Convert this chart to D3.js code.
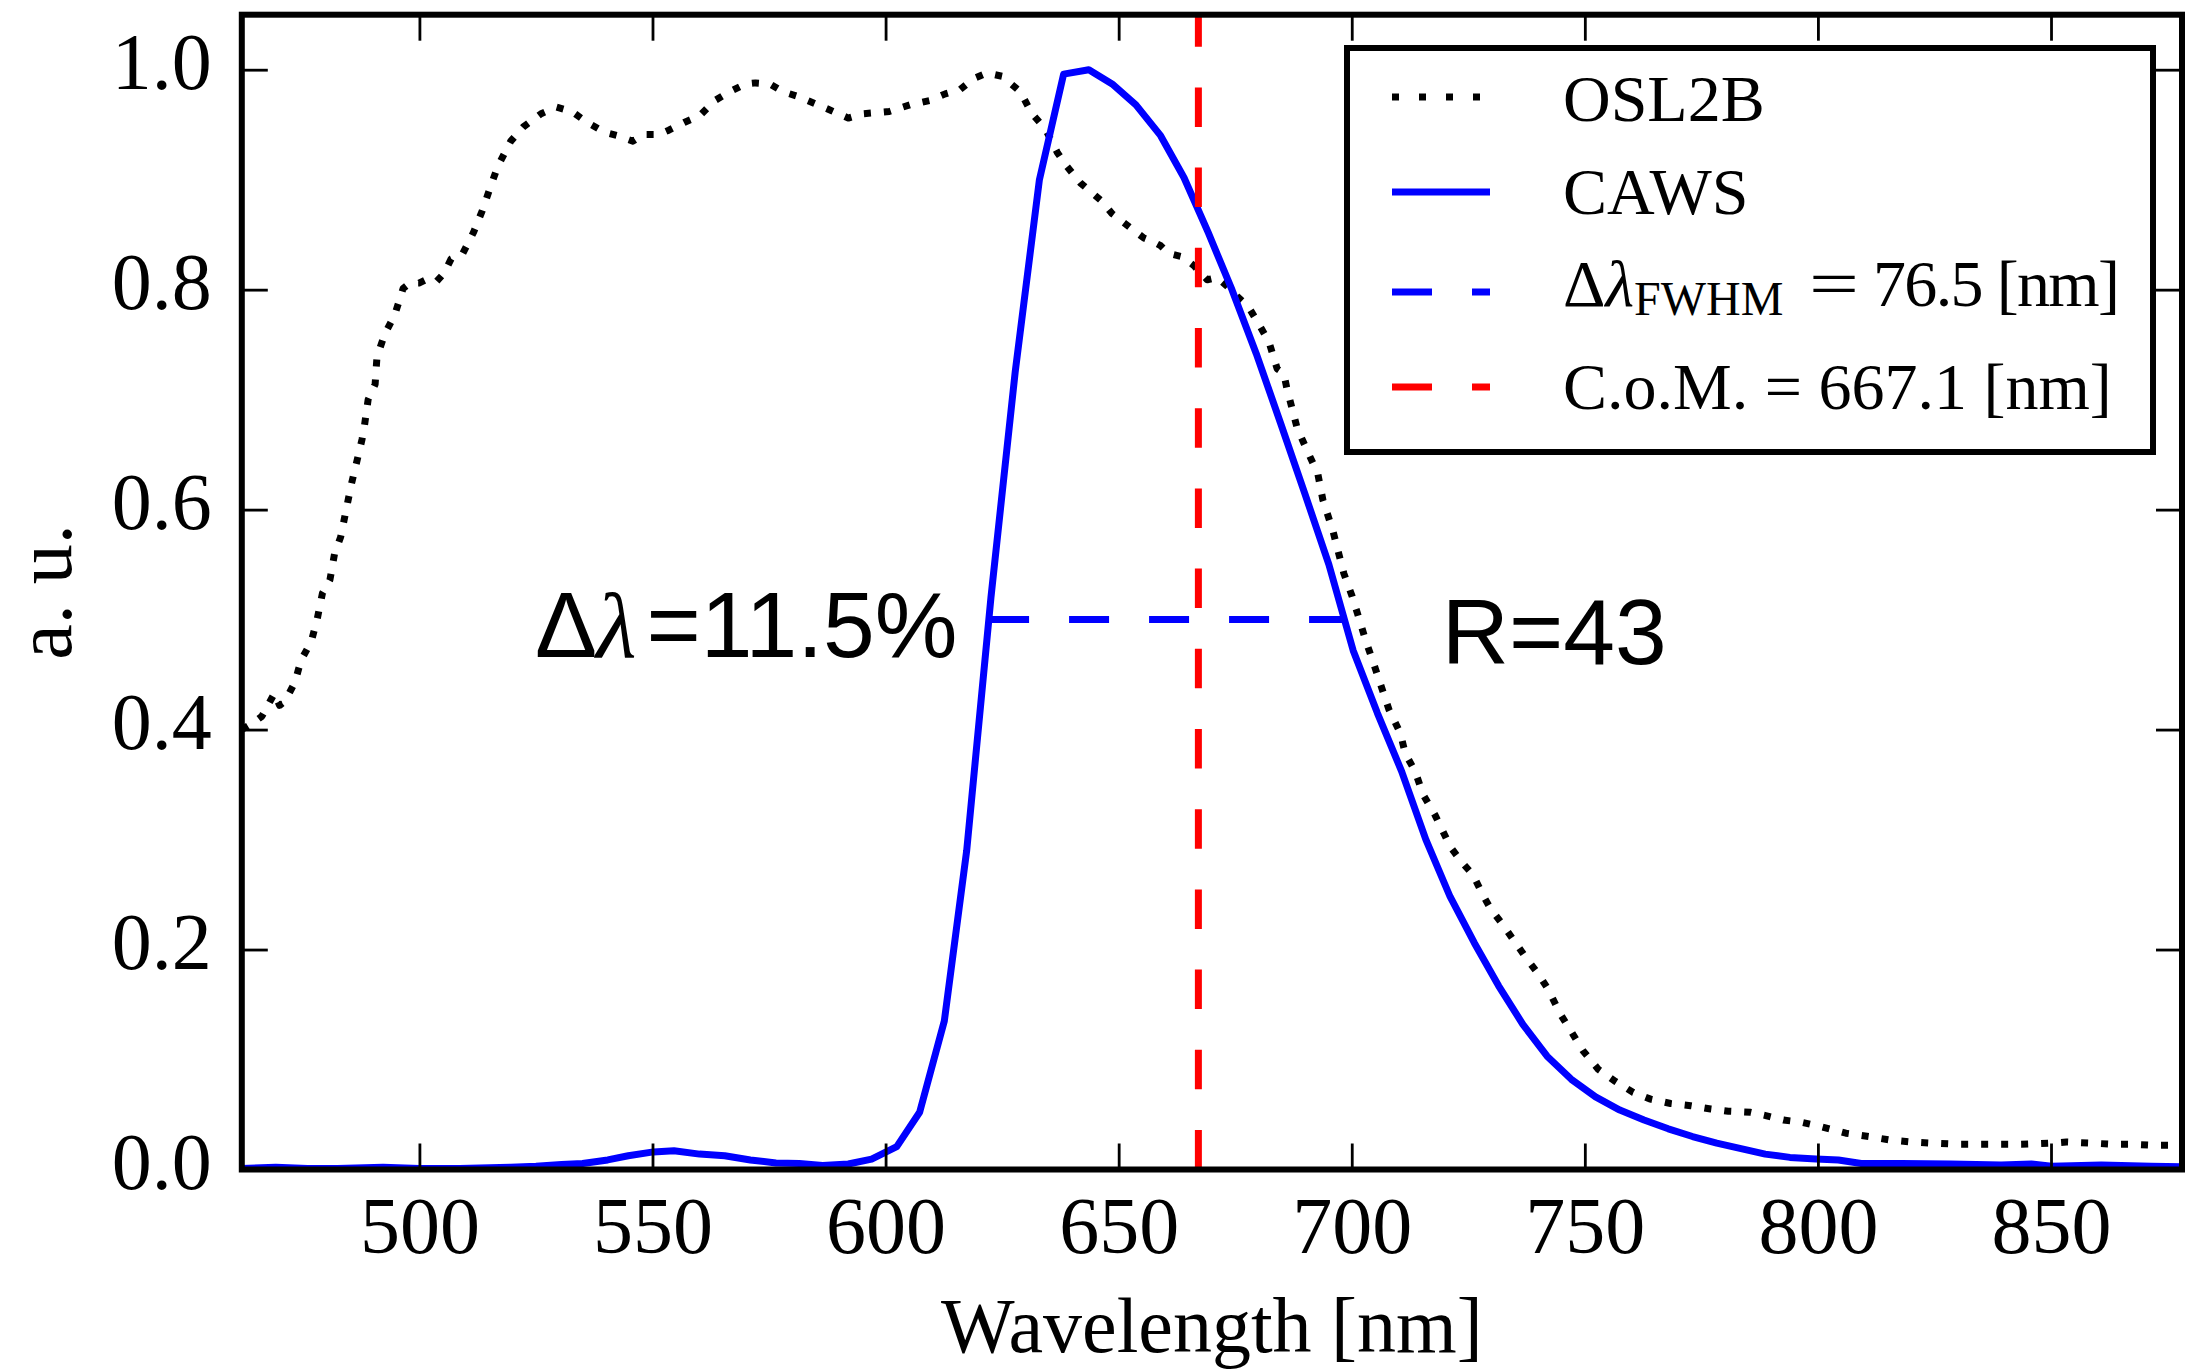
<!DOCTYPE html>
<html>
<head>
<meta charset="utf-8">
<script src="https://cdn.jsdelivr.net/npm/d3@7"></script>
<style>
  html, body { margin: 0; padding: 0; background: #fff; }
  svg { display: block; }
</style>
</head>
<body>
<svg id="chart" width="2185" height="1369"></svg>
<script>
// ---- Spectra (wavelength in nm, normalised response) ----
const oslWavelength = [461.9,464.3,466.2,468.9,470.0,471.2,473.3,474.6,476.8,478.1,479.2,480.8,481.8,483.1,484.2,485.4,486.7,487.7,488.2,489.0,490.5,490.9,492.6,494.7,496.5,498.0,499.9,501.4,503.6,505.3,506.8,509.3,511.6,513.5,515.2,516.8,519.6,522.3,526.1,529.4,532.7,536.0,539.8,542.5,545.8,548.0,551.3,553.5,556.8,560.1,563.4,566.6,569.9,572.1,575.2,578.0,581.7,583.3,587.7,592.0,595.3,600.8,605.2,609.5,612.8,616.0,618.9,621.8,625.0,628.9,631.4,634.3,636.8,638.9,641.8,644.3,646.5,648.6,651.4,653.2,655.4,657.2,659.0,660.7,663.6,666.1,669.0,671.1,673.3,675.4,677.9,680.0,682.2,684.0,685.4,686.1,688.3,690.5,692.7,693.8,696.0,698.3,700.1,701.2,703.0,704.7,706.5,708.0,710.4,711.5,713.6,715.3,717.9,721.2,723.9,726.0,728.2,729.8,732.5,737.3,740.0,742.1,744.8,747.0,749.6,752.9,756.6,760.4,764.1,768.4,772.7,777.0,780.8,785.6,788.8,792.6,796.4,800.6,806.0,810.9,815.2,820.0,824.3,829.7,834.0,839.3,843.6,850.1,853.3,858.7,863.0,867.3,872.1,878.1];
const oslValue = [0.400,0.406,0.412,0.433,0.422,0.426,0.443,0.463,0.480,0.501,0.524,0.536,0.560,0.575,0.598,0.623,0.646,0.664,0.676,0.700,0.714,0.739,0.760,0.777,0.801,0.806,0.806,0.809,0.807,0.815,0.828,0.833,0.852,0.872,0.893,0.912,0.935,0.948,0.960,0.966,0.962,0.952,0.943,0.940,0.935,0.941,0.941,0.945,0.952,0.958,0.972,0.980,0.987,0.988,0.987,0.980,0.975,0.972,0.964,0.956,0.960,0.962,0.968,0.972,0.978,0.982,0.992,0.997,0.994,0.980,0.960,0.946,0.925,0.912,0.897,0.888,0.880,0.869,0.860,0.854,0.847,0.844,0.840,0.833,0.830,0.822,0.809,0.811,0.803,0.794,0.784,0.769,0.753,0.728,0.724,0.710,0.674,0.653,0.633,0.609,0.580,0.542,0.521,0.506,0.481,0.460,0.437,0.418,0.397,0.378,0.362,0.341,0.322,0.293,0.278,0.268,0.249,0.237,0.222,0.193,0.178,0.164,0.141,0.126,0.108,0.091,0.080,0.070,0.064,0.060,0.058,0.055,0.053,0.052,0.049,0.045,0.043,0.039,0.033,0.030,0.027,0.025,0.024,0.023,0.023,0.023,0.023,0.024,0.025,0.024,0.023,0.023,0.022,0.022];

const cawsWavelength = [461.9,469.2,476.0,482.4,492.2,500.0,508.6,519.6,525.0,530.5,535.0,540.4,544.8,550.2,554.6,560.1,565.5,571.0,576.5,581.5,586.5,592.0,597.0,602.4,607.3,612.6,617.4,622.6,627.8,633.0,638.2,643.6,648.6,653.7,659.0,664.0,669.2,674.3,679.5,684.7,689.9,695.1,700.3,705.5,710.7,715.9,721.1,726.3,731.5,736.7,741.9,747.1,752.3,757.5,762.7,767.9,773.1,778.3,783.5,788.7,794.0,799.6,804.4,809.3,818.0,828.6,839.3,845.8,850.1,860.8,871.5,878.1];
const cawsValue = [0.001,0.002,0.001,0.001,0.002,0.001,0.001,0.002,0.003,0.0046,0.0055,0.0087,0.0125,0.016,0.017,0.014,0.0125,0.0087,0.006,0.0055,0.0037,0.005,0.0095,0.0208,0.052,0.135,0.290,0.520,0.725,0.900,0.996,1.000,0.987,0.968,0.940,0.902,0.852,0.800,0.742,0.679,0.615,0.550,0.472,0.415,0.362,0.300,0.248,0.206,0.167,0.132,0.103,0.082,0.066,0.054,0.045,0.037,0.030,0.024,0.019,0.014,0.011,0.0096,0.0087,0.0055,0.0055,0.005,0.004,0.005,0.003,0.004,0.003,0.0025];

// Half-maximum bounds and centre of mass of the CAWS band (nm)
const fwhmBounds = [622.2, 698.7];
const fwhmLevel = 0.5;
const centerOfMass = 667.1;

// Axes
const xDomain = [461.9, 878.1];
const yDomain = [0, 1.05];
const xTicks = [500, 550, 600, 650, 700, 750, 800, 850];
const yTicks = [0.0, 0.2, 0.4, 0.6, 0.8, 1.0];

// Labels
const legendLabels = ["OSL2B", "CAWS", "FWHM", "C.o.M. = 667.1 [nm]"];
const deltaText = "=11.5%";
const resolutionText = "R=43";
const deltaAnchor = [524.8, 0.466];
const resolutionAnchor = [719.3, 0.4595];

// ---- Drawing ----
const W = 2185, H = 1369;
const margin = { left: 241.8, right: 3, top: 14.7, bottom: 199.5 };
const serif = "'Liberation Serif', 'Times New Roman', Times, serif";
const sans = "'Liberation Sans', Arial, Helvetica, sans-serif";
const BLUE = "#0000ff", RED = "#ff0000";
const LW = 7;

const svg = d3.select("#chart");
svg.append("rect").attr("width", W).attr("height", H).attr("fill", "#fff");

const x = d3.scaleLinear().domain(xDomain).range([margin.left, W - margin.right]);
const y = d3.scaleLinear().domain(yDomain).range([H - margin.bottom, margin.top]);

svg.append("defs").append("clipPath").attr("id", "plot-clip")
  .append("rect")
  .attr("x", x.range()[0]).attr("y", y.range()[1])
  .attr("width", x.range()[1] - x.range()[0])
  .attr("height", y.range()[0] - y.range()[1]);

const plot = svg.append("g").attr("clip-path", "url(#plot-clip)");
const line = d3.line().x(d => x(d[0])).y(d => y(d[1]));

// OSL2B: dotted black
plot.append("path")
  .datum(d3.zip(oslWavelength, oslValue))
  .attr("d", line)
  .attr("fill", "none").attr("stroke", "#000")
  .attr("stroke-width", LW).attr("stroke-dasharray", "7,13")
  .attr("stroke-linecap", "butt").attr("stroke-linejoin", "round");

// CAWS: solid blue
plot.append("path")
  .datum(d3.zip(cawsWavelength, cawsValue))
  .attr("d", line)
  .attr("fill", "none").attr("stroke", BLUE)
  .attr("stroke-width", LW).attr("stroke-linejoin", "round");

// FWHM: dashed blue at half maximum
plot.append("path")
  .datum(fwhmBounds.map(w => [w, fwhmLevel]))
  .attr("d", line)
  .attr("fill", "none").attr("stroke", BLUE)
  .attr("stroke-width", LW).attr("stroke-dasharray", "40,40");

// Centre of mass: dashed red vertical from bottom to top
plot.append("path")
  .datum([[centerOfMass, yDomain[0]], [centerOfMass, yDomain[1]]])
  .attr("d", line)
  .attr("fill", "none").attr("stroke", RED)
  .attr("stroke-width", LW).attr("stroke-dasharray", "39.5,40.7");

// ---- Axes: inward ticks on all four sides ----
const tickLen = 26;
function styleAxis(g) {
  g.select(".domain").remove();
  g.selectAll(".tick line").attr("stroke", "#000").attr("stroke-width", 2.8);
}

const xAxisBottom = svg.append("g")
  .attr("transform", `translate(0,${y(yDomain[0])})`)
  .call(d3.axisBottom(x).tickValues(xTicks).tickSizeInner(-tickLen).tickSizeOuter(0).tickFormat(d3.format("d")));
styleAxis(xAxisBottom);
xAxisBottom.selectAll(".tick text")
  .attr("y", 83.5).attr("dy", null)
  .attr("font-family", serif).attr("font-size", 80).attr("fill", "#000");

const xAxisTop = svg.append("g")
  .attr("transform", `translate(0,${y(yDomain[1])})`)
  .call(d3.axisTop(x).tickValues(xTicks).tickSizeInner(-tickLen).tickSizeOuter(0).tickFormat(""));
styleAxis(xAxisTop);

const yAxisLeft = svg.append("g")
  .attr("transform", `translate(${x(xDomain[0])},0)`)
  .call(d3.axisLeft(y).tickValues(yTicks).tickSizeInner(-tickLen).tickSizeOuter(0).tickFormat(d3.format(".1f")));
styleAxis(yAxisLeft);
yAxisLeft.selectAll(".tick text")
  .attr("x", -30).attr("dy", 19)
  .attr("font-family", serif).attr("font-size", 80).attr("fill", "#000");

const yAxisRight = svg.append("g")
  .attr("transform", `translate(${x(xDomain[1])},0)`)
  .call(d3.axisRight(y).tickValues(yTicks).tickSizeInner(-tickLen).tickSizeOuter(0).tickFormat(""));
styleAxis(yAxisRight);

// Frame
svg.append("rect")
  .attr("x", x.range()[0]).attr("y", y.range()[1])
  .attr("width", x.range()[1] - x.range()[0])
  .attr("height", y.range()[0] - y.range()[1])
  .attr("fill", "none").attr("stroke", "#000").attr("stroke-width", 6);

// Axis titles
svg.append("text")
  .attr("x", (x.range()[0] + x.range()[1]) / 2).attr("y", 1352)
  .attr("text-anchor", "middle")
  .attr("font-family", serif).attr("font-size", 78)
  .text("Wavelength [nm]");

svg.append("text")
  .attr("transform", `translate(71,${(y.range()[0] + y.range()[1]) / 2}) rotate(-90)`)
  .attr("text-anchor", "middle")
  .attr("font-family", serif).attr("font-size", 80)
  .text("a. u.");

// ---- Annotations ----
const dl = svg.append("text")
  .attr("x", x(deltaAnchor[0])).attr("y", y(deltaAnchor[1]))
  .attr("font-family", sans).attr("font-size", 93).attr("fill", "#000");
dl.append("tspan").text("Δ");
dl.append("tspan").attr("font-family", serif).attr("font-style", "italic").attr("dx", -1).text("λ");
dl.append("tspan").attr("dx", 10).text(deltaText);

svg.append("text")
  .attr("x", x(resolutionAnchor[0])).attr("y", y(resolutionAnchor[1]))
  .attr("font-family", sans).attr("font-size", 93).attr("fill", "#000")
  .text(resolutionText);

// ---- Legend ----
const lg = { x: 1347, y: 48, w: 806, h: 404, sx1: 1392, sx2: 1490, tx: 1563 };
const rowY = [97, 192, 292, 387];
const rowBase = [120.5, 214, 306, 409];
const legend = svg.append("g");
legend.append("rect")
  .attr("x", lg.x).attr("y", lg.y).attr("width", lg.w).attr("height", lg.h)
  .attr("fill", "#fff").attr("stroke", "#000").attr("stroke-width", 6);

const sampleStyles = [
  { stroke: "#000", dash: "7,20" },
  { stroke: BLUE, dash: null },
  { stroke: BLUE, dash: "40,40" },
  { stroke: RED, dash: "40,40" }
];
sampleStyles.forEach((s, i) => {
  legend.append("line")
    .attr("x1", lg.sx1).attr("x2", lg.sx2)
    .attr("y1", rowY[i]).attr("y2", rowY[i])
    .attr("stroke", s.stroke).attr("stroke-width", LW)
    .attr("stroke-dasharray", s.dash);
});

const legendFont = 66;
[0, 1, 3].forEach(i => {
  legend.append("text")
    .attr("x", lg.tx).attr("y", rowBase[i])
    .attr("font-family", serif).attr("font-size", legendFont)
    .text(legendLabels[i]);
});

const fw = legend.append("text")
  .attr("x", lg.tx).attr("y", rowBase[2])
  .attr("font-family", serif).attr("font-size", legendFont);
fw.append("tspan").text("Δ");
fw.append("tspan").attr("font-style", "italic").text("λ");
fw.append("tspan").attr("font-size", 48).attr("dy", 9).text(legendLabels[2]);
fw.append("tspan").attr("x", 1809).attr("dy", -9)
  .attr("textLength", 50).attr("lengthAdjust", "spacingAndGlyphs").text("=");
fw.append("tspan").attr("x", 1873)
  .attr("textLength", 247).attr("lengthAdjust", "spacing").text("76.5 [nm]");
</script>
</body>
</html>
